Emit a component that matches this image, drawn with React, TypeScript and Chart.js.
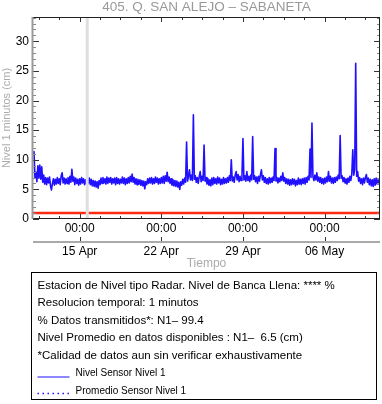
import React, { useEffect, useRef } from 'react';
import { Chart, registerables } from 'chart.js';

Chart.register(...registerables);

const FONT = '"Liberation Sans", Arial, Helvetica, sans-serif';

const TITLE = '405. Q. SAN ALEJO – SABANETA';
const Y_TITLE = 'Nivel 1 minutos (cm)';
const X_TITLE = 'Tiempo';

// x values are days after 1 Apr 00:00
const START_DAY = 10; // 11 Apr 00:00
const END_DAY = 39.75;
const SAMPLE_STEP_DAYS = 1 / 12; // one reading every 2 hours

// Nivel Sensor Nivel 1 (cm), one row per day
const LEVEL_N1 = [
  11.0, 11.4, 7.0, 7.9, 6.3, 9.0, 6.9, 9.1, 6.7, 8.8, 6.2, 7.4,
  5.9, 7.0, 5.8, 6.9, 6.1, 7.1, 5.6, 4.9, 6.0, 6.8, 5.7, 6.7,
  5.9, 7.0, 6.0, 6.8, 5.8, 7.3, 7.8, 6.1, 6.9, 5.9, 6.8, 6.0,
  7.0, 5.9, 7.2, 6.2, 8.4, 6.4, 7.1, 5.8, 6.9, 6.0, 6.7, 5.7,
  6.8, 5.9, 7.0, 6.1, 6.8, 5.8, 6.6, 5.9, 7.0, 6.0, 6.9, 5.8,
  6.7, 5.6, 6.5, 5.5, 6.4, 5.4, 6.3, 5.2, 6.5, 5.8, 6.9, 6.0,
  7.0, 6.1, 6.8, 5.9, 7.1, 6.0, 6.9, 6.2, 7.0, 5.9, 6.8, 6.1,
  6.9, 5.8, 7.0, 6.0, 6.8, 5.9, 6.7, 6.1, 7.1, 6.0, 6.9, 5.8,
  6.8, 6.0, 7.0, 6.1, 7.2, 6.3, 7.6, 6.2, 7.0, 5.9, 6.8, 5.8,
  6.7, 5.9, 6.6, 5.7, 6.5, 5.6, 6.4, 5.1, 6.3, 5.8, 6.8, 6.0,
  6.9, 6.1, 7.0, 5.9, 6.8, 6.0, 7.1, 6.2, 6.9, 5.9, 6.8, 6.0,
  7.0, 6.1, 7.2, 6.0, 7.3, 6.4, 7.9, 6.3, 7.1, 6.0, 6.8, 5.7,
  6.6, 5.6, 6.5, 5.5, 6.4, 5.4, 6.2, 5.0, 6.3, 5.7, 6.7, 5.9,
  6.9, 6.2, 13.0, 6.4, 7.2, 8.3, 6.6, 7.4, 6.5, 17.6, 6.7, 7.3,
  6.2, 7.0, 6.0, 7.1, 8.0, 6.3, 7.2, 6.5, 12.5, 6.4, 7.0, 5.9,
  6.8, 5.7, 6.6, 5.6, 6.9, 5.8, 7.0, 6.0, 6.8, 5.9, 7.1, 6.1,
  6.9, 5.8, 6.7, 5.9, 7.0, 6.0, 6.8, 6.1, 7.0, 6.2, 7.3, 6.5,
  10.0, 6.4, 7.1, 6.2, 7.4, 8.0, 6.6, 7.5, 6.3, 7.2, 6.5, 7.4,
  13.6, 6.6, 7.3, 6.4, 8.0, 6.5, 7.2, 6.3, 7.4, 6.6, 13.9, 6.7,
  7.3, 6.3, 7.1, 6.0, 7.2, 6.4, 7.5, 8.3, 6.6, 7.3, 6.2, 7.0,
  6.0, 6.8, 5.9, 7.0, 6.1, 6.9, 6.2, 7.1, 6.5, 11.9, 6.4, 7.0,
  6.1, 6.9, 6.3, 7.2, 6.5, 7.8, 6.4, 7.0, 6.0, 6.8, 5.9, 6.7,
  5.7, 6.6, 5.8, 6.8, 5.9, 6.7, 5.6, 6.5, 5.8, 6.9, 5.9, 6.7,
  5.8, 6.8, 6.0, 6.9, 5.9, 7.0, 6.2, 7.2, 6.6, 11.8, 7.0, 16.2,
  7.2, 6.5, 7.4, 6.6, 7.8, 6.4, 7.1, 6.2, 7.0, 6.0, 6.8, 5.9,
  6.9, 6.1, 7.1, 6.3, 8.0, 6.4, 7.2, 6.1, 6.9, 6.0, 7.0, 6.2,
  7.1, 6.5, 7.4, 6.8, 14.1, 6.9, 7.3, 6.3, 7.0, 6.1, 6.8, 5.9,
  6.9, 6.2, 7.2, 6.5, 7.6, 11.7, 7.4, 8.4, 26.3, 7.2, 8.0, 6.4,
  7.0, 6.0, 6.8, 5.8, 6.9, 6.1, 7.0, 7.5, 6.2, 6.9, 5.8, 6.7,
  5.6, 6.6, 5.5, 6.8, 5.7, 6.9, 5.9, 6.6, 5.8,
];

const RED_LEVEL = 1.0;
const GAP_DAY = 14.65;

const MAJOR_DAYS = [14, 21, 28, 35];
const TIME_LABEL = '00:00';
const DATE_LABELS = ['15 Apr', '22 Apr', '29 Apr', '06 May'];
const MINOR_DAYS = [10.5, 12.25, 15.75, 17.5, 19.25, 22.75, 24.5, 26.25, 29.75, 31.5, 33.25, 36.75, 38.5];

const Y_MIN = 0;
const Y_MAX = 34.1;
const Y_MAJOR = [0, 5, 10, 15, 20, 25, 30];
const Y_MINOR = [1, 2, 3, 4, 6, 7, 8, 9, 11, 12, 13, 14, 16, 17, 18, 19, 21, 22, 23, 24, 26, 27, 28, 29, 31, 32, 33, 34];

const INFO_LINES = [
  'Estacion de Nivel tipo Radar. Nivel de Banca Llena: **** %',
  'Resolucion temporal: 1 minutos',
  '% Datos transmitidos*: N1– 99.4',
  'Nivel Promedio en datos disponibles : N1–  6.5 (cm)',
  '*Calidad de datos aun sin verificar exhaustivamente',
];
const SERIES_LABELS = ['Nivel Sensor Nivel 1', 'Promedio Sensor Nivel 1'];

const BLUE = '#2010ff';
const RED = '#ff2a12';

const decorPlugin = {
  id: 'decor',
  afterDatasetsDraw(chart: any) {
    const { ctx, chartArea: a, scales } = chart;
    const x = scales.x;
    const y = scales.y;
    ctx.save();
    ctx.lineWidth = 1;
    const seg = (x1: number, y1: number, x2: number, y2: number) => {
      ctx.beginPath();
      ctx.moveTo(x1, y1);
      ctx.lineTo(x2, y2);
      ctx.stroke();
    };
    for (const t of y.ticks) {
      const py = Math.round(y.getPixelForValue(t.value)) + 0.5;
      const major = Y_MAJOR.includes(t.value);
      const len = major ? 6 : 3;
      ctx.strokeStyle = major ? '#333' : '#888';
      seg(a.left, py, a.left + len, py);
      seg(a.right - len, py, a.right, py);
    }
    for (const t of x.ticks) {
      const px = Math.round(x.getPixelForValue(t.value)) + 0.5;
      const major = MAJOR_DAYS.includes(t.value);
      const len = major ? 5 : 3;
      ctx.strokeStyle = '#333';
      seg(px, a.bottom, px, a.bottom - len);
      seg(px, a.top, px, a.top + len);
    }
    ctx.strokeStyle = '#222';
    seg(a.left, a.top + 0.5, a.right, a.top + 0.5);
    seg(a.right - 0.5, a.top, a.right - 0.5, a.bottom);
    seg(a.left, a.bottom - 0.5, a.right, a.bottom - 0.5);
    ctx.strokeStyle = '#999';
    ctx.lineWidth = 2;
    seg(a.left - 0.5, a.top, a.left - 0.5, a.bottom);

    const ly = a.bottom + 23;
    ctx.strokeStyle = '#aaa';
    ctx.lineWidth = 2;
    seg(a.left, ly, a.right, ly);
    ctx.lineWidth = 1;
    ctx.strokeStyle = '#333';
    for (const d of MAJOR_DAYS) {
      const px = Math.round(x.getPixelForValue(d)) + 0.5;
      seg(px, ly - 1, px, ly - 5);
    }
    ctx.restore();
  },
  afterDraw(chart: any) {
    const { ctx, chartArea: a } = chart;
    const cx = (a.left + a.right) / 2;
    ctx.save();
    ctx.textBaseline = 'middle';
    ctx.textAlign = 'center';
    ctx.fillStyle = '#999';
    ctx.font = `13.5px ${FONT}`;
    ctx.fillText(TITLE, cx, 7);
    ctx.fillStyle = '#aaa';
    ctx.font = `12px ${FONT}`;
    ctx.fillText(X_TITLE, cx, a.bottom + 45);

    const bx = 31.5, by = 272.5, bw = 345, bh = 127;
    ctx.strokeStyle = '#000';
    ctx.lineWidth = 1;
    ctx.strokeRect(bx, by, bw, bh);
    ctx.textAlign = 'left';
    ctx.fillStyle = '#000';
    ctx.font = `11.5px ${FONT}`;
    INFO_LINES.forEach((s, i) => ctx.fillText(s, bx + 6, by + 13 + i * 17.6));
    ctx.font = `10px ${FONT}`;
    const l1 = by + 13 + 5 * 17.6;
    const l2 = l1 + 17.6;
    ctx.strokeStyle = BLUE;
    ctx.lineWidth = 1.2;
    ctx.beginPath();
    ctx.moveTo(bx + 6, l1 + 3.5);
    ctx.lineTo(bx + 38, l1 + 3.5);
    ctx.stroke();
    ctx.lineWidth = 1.5;
    ctx.setLineDash([1.5, 3.5]);
    ctx.beginPath();
    ctx.moveTo(bx + 6, l2 + 2.5);
    ctx.lineTo(bx + 38, l2 + 2.5);
    ctx.stroke();
    ctx.setLineDash([]);
    ctx.fillText(SERIES_LABELS[0], bx + 44, l1);
    ctx.fillText(SERIES_LABELS[1], bx + 44, l2);
    ctx.restore();
  },
};

export default function App() {
  const ref = useRef<HTMLCanvasElement>(null);
  useEffect(() => {
    if (!ref.current) return;
    const levelPoints = LEVEL_N1.map((v, i) => ({ x: START_DAY + i * SAMPLE_STEP_DAYS, y: v }));
    const chart = new Chart(ref.current, {
      type: 'line',
      data: {
        datasets: [
          {
            label: 'gap',
            data: [{ x: GAP_DAY, y: Y_MIN }, { x: GAP_DAY, y: Y_MAX }],
            borderColor: '#dedede',
            borderWidth: 3,
            pointRadius: 0,
            order: 0,
          },
          {
            label: SERIES_LABELS[0],
            data: levelPoints,
            borderColor: BLUE,
            borderWidth: 1.6,
            borderJoinStyle: 'round',
            pointRadius: 0,
            tension: 0,
            order: 1,
          },
          {
            label: 'ref',
            data: [{ x: START_DAY, y: RED_LEVEL }, { x: END_DAY, y: RED_LEVEL }],
            borderColor: RED,
            borderWidth: 2.5,
            pointRadius: 0,
            order: 2,
          },
        ],
      },
      options: {
        animation: false,
        responsive: false,
        events: [],
        layout: { padding: { top: 17, right: 2, left: 0, bottom: 0 } },
        plugins: { legend: { display: false }, tooltip: { enabled: false }, title: { display: false } },
        scales: {
          x: {
            type: 'linear',
            min: START_DAY,
            max: END_DAY,
            grid: { display: false, drawTicks: false },
            border: { display: false },
            afterBuildTicks: (s: any) => {
              s.ticks = [...MAJOR_DAYS, ...MINOR_DAYS].sort((p, q) => p - q).map((v) => ({ value: v }));
            },
            afterFit: (s: any) => {
              s.height = 185;
            },
            ticks: {
              autoSkip: false,
              maxRotation: 0,
              padding: 4,
              color: '#000',
              font: { size: 12, family: FONT, lineHeight: 0.95 },
              callback: (v: any) => {
                const i = MAJOR_DAYS.indexOf(v);
                return i < 0 ? '' : [TIME_LABEL, '', DATE_LABELS[i]];
              },
            },
          },
          y: {
            type: 'linear',
            min: Y_MIN,
            max: Y_MAX,
            grid: { display: false, drawTicks: false },
            border: { display: false },
            afterBuildTicks: (s: any) => {
              s.ticks = [...Y_MAJOR, ...Y_MINOR].sort((p, q) => p - q).map((v) => ({ value: v }));
            },
            afterFit: (s: any) => {
              s.width = 33;
            },
            ticks: {
              autoSkip: false,
              padding: 4,
              color: '#000',
              font: { size: 12, family: FONT },
              callback: (v: any) => (Y_MAJOR.includes(v) ? String(v) : ''),
            },
            title: {
              display: true,
              text: Y_TITLE,
              color: '#aaa',
              padding: 0,
              font: { size: 11, family: FONT },
            },
          },
        },
      },
      plugins: [decorPlugin],
    } as any);
    return () => chart.destroy();
  }, []);
  return (
    <div style={{ position: 'absolute', left: 0, top: 0, width: 382, height: 404, background: '#fff' }}>
      <canvas ref={ref} width={382} height={404} />
    </div>
  );
}
